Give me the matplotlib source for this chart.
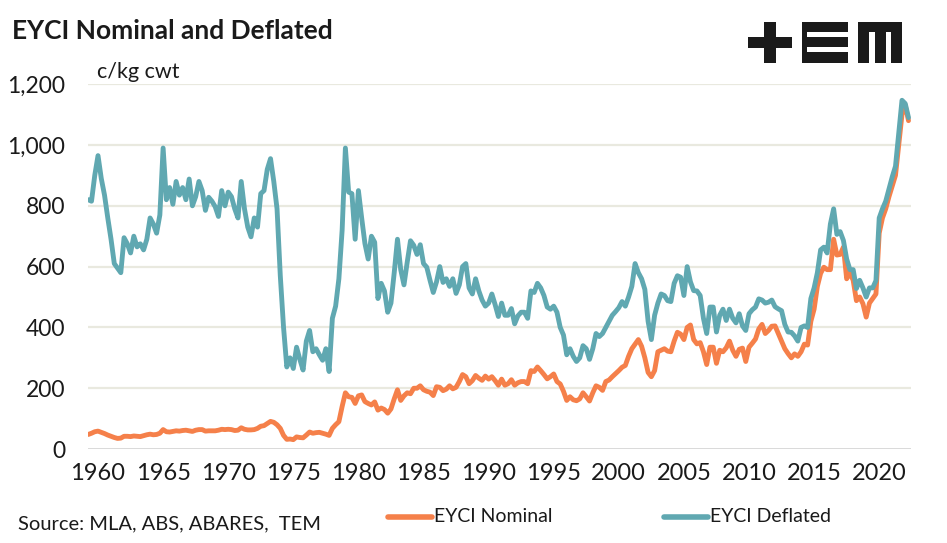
import numpy as np
import matplotlib
matplotlib.use("Agg")
import matplotlib.pyplot as plt
from matplotlib.lines import Line2D
from matplotlib.patches import Rectangle

plt.rcParams['font.family'] = ['Lato', 'DejaVu Sans']

# quarterly readings, first value is Q2 1959
start_year = 1959.25

deflated = [
    820, 815, 900,                                   # 1959
    965, 890, 835, 760,   690, 610, 595, 580,        # 1960-61
    695, 675, 645, 700,   665, 675, 655, 690,        # 1962-63
    760, 740, 710, 770,   990, 820, 860, 805,        # 1964-65
    880, 835, 860, 820,   888, 800, 830, 880,        # 1966-67
    850, 785, 828, 815,   797, 765, 850, 800,        # 1968-69
    845, 830, 790, 760,   880, 790, 730, 698,        # 1970-71
    760, 730, 840, 850,   920, 955, 880, 790,        # 1972-73
    570, 400, 270, 300,   265, 335, 295, 260,        # 1974-75
    355, 390, 320, 330,   310, 292, 330, 255,        # 1976-77
    430, 470, 560, 720,   990, 845, 840, 690,        # 1978-79
    850, 760, 676, 625,   700, 680, 495, 545,        # 1980-81
    520, 450, 480, 580,   690, 590, 540, 615,        # 1982-83
    685, 670, 640, 672,   610, 598, 555, 515,        # 1984-85
    550, 600, 548, 560,   535, 560, 512, 540,        # 1986-87
    600, 610, 530, 510,   560, 520, 490, 470,        # 1988-89
    480, 510, 475, 436,   480, 440, 440, 462,        # 1990-91
    412, 438, 450, 450,   430, 520, 515, 545,        # 1992-93
    530, 505, 467, 460,   470, 450, 400, 375,        # 1994-95
    310, 330, 305, 288,   300, 340, 330, 295,        # 1996-97
    330, 380, 370, 380,   400, 420, 440, 452,        # 1998-99
    465, 485, 470, 500,   535, 610, 580, 560,        # 2000-01
    525, 420, 360, 440,   480, 510, 505, 488,        # 2002-03
    485, 545, 570, 565,   505, 600, 550, 521,        # 2004-05
    520, 505, 430, 380,   467, 467, 385, 440,        # 2006-07
    460, 423, 460, 430,   415, 445, 405, 390,        # 2008-09
    445, 458, 467, 494,   490, 480, 483, 490,        # 2010-11
    468, 461, 455, 410,   385, 384, 372, 355,        # 2012-13
    400, 405, 400, 495,   530, 580, 655, 664,        # 2014-15
    645, 740, 790, 706,   715, 686, 625, 590,        # 2016-17
    590, 528, 555, 530,   500, 530, 530, 554,        # 2018-19
    760, 790, 815, 855,   895, 930, 1040, 1147,      # 2020-21
    1136, 1090,                                      # 2022
]

nominal = [
    48, 52, 57,                                      # 1959
    59, 55, 51, 46,       42, 38, 35, 36,            # 1960-61
    42, 42, 41, 43,       42, 41, 44, 47,            # 1962-63
    49, 47, 48, 52,       64, 57, 56, 58,            # 1964-65
    60, 59, 61, 62,       60, 58, 62, 64,            # 1966-67
    64, 59, 60, 60,       60, 62, 65, 64,            # 1968-69
    65, 64, 61, 62,       70, 65, 63, 63,            # 1970-71
    64, 68, 75, 77,       84, 91, 88, 80,            # 1972-73
    68, 45, 32, 33,       31, 40, 38, 37,            # 1974-75
    46, 56, 52, 54,       55, 52, 49, 45,            # 1976-77
    68, 80, 90, 140,      185, 172, 170, 150,        # 1978-79
    175, 178, 156, 150,   145, 155, 128, 135,        # 1980-81
    130, 118, 132, 165,   195, 160, 175, 185,        # 1982-83
    182, 200, 200, 208,   195, 190, 187, 176,        # 1984-85
    205, 203, 192, 197,   208, 198, 203, 222,        # 1986-87
    245, 238, 215, 225,   242, 233, 226, 240,        # 1988-89
    230, 238, 225, 210,   230, 210, 215, 228,        # 1990-91
    210, 218, 222, 222,   215, 258, 255, 270,        # 1992-93
    258, 245, 231, 238,   247, 222, 214, 190,        # 1994-95
    160, 172, 162, 159,   165, 185, 172, 158,        # 1996-97
    185, 208, 203, 193,   222, 227, 238, 248,        # 1998-99
    258, 269, 275, 305,   330, 345, 360, 338,        # 2000-01
    300, 252, 238, 258,   320, 325, 330, 322,        # 2002-03
    320, 355, 384, 378,   360, 400, 408, 360,        # 2004-05
    346, 350, 320, 278,   335, 335, 282, 325,        # 2006-07
    320, 333, 355, 325,   305, 328, 332, 288,        # 2008-09
    335, 348, 362, 395,   410, 380, 390, 404,        # 2010-11
    405, 380, 355, 330,   314, 300, 313, 305,        # 2012-13
    320, 345, 342, 420,   460, 535, 578, 598,        # 2014-15
    590, 590, 690, 638,   640, 664, 560, 580,        # 2016-17
    555, 488, 500, 478,   434, 480, 495, 510,        # 2018-19
    710, 760, 790, 830,   865, 900, 1000, 1100,      # 2020-21
    1130, 1080,                                      # 2022
]

assert len(deflated) == len(nominal)
years = start_year + 0.25 * np.arange(len(deflated))

tick_years = list(range(1960, 2021, 5))
y_ticks = [0, 200, 400, 600, 800, 1000, 1200]

col_nom = '#F5804A'
col_def = '#60A8B1'
txt_col = '#1a1a1a'

fig = plt.figure(figsize=(9.47, 5.43), dpi=100)
ax = fig.add_axes([0.0925, 0.173, 0.8696, 0.672])

for yv in y_ticks[1:]:
    ax.axhline(yv, color='#E9E9DF', linewidth=1.6, zorder=1)
ax.axhline(0, color='#D6D6D6', linewidth=2.0, zorder=1)

ax.plot(years, nominal, color=col_nom, linewidth=3.5, solid_capstyle='round', zorder=3)
ax.plot(years, deflated, color=col_def, linewidth=3.5, solid_capstyle='round', zorder=4)

ax.set_xlim(1959.2, 2022.45)
ax.set_ylim(0, 1200)
ax.set_xticks(tick_years)
ax.set_xticklabels([str(t) for t in tick_years], fontsize=17, color=txt_col)
ax.set_yticks(y_ticks)
ax.set_yticklabels([f'{v:,}' for v in y_ticks], fontsize=16.5, color=txt_col)
ax.tick_params(axis='both', length=0)
ax.tick_params(axis='y', pad=16)
ax.tick_params(axis='x', pad=10)
for s in ax.spines.values(): s.set_visible(False)

## Texts
fig.text(12/947, 1 - 31/543, 'EYCI Nominal and Deflated', fontsize=19, fontweight='bold',
         color=txt_col, ha='left', va='center')
fig.text(97/947, 1 - 72/543, 'c/kg cwt', fontsize=15.5, color=txt_col, ha='left', va='center')
fig.text(18/947, 1 - 524/543, 'Source: MLA, ABS, ABARES,  TEM', fontsize=14.5, color=txt_col,
         ha='left', va='center')

## Legend drawn by hand
ly = 1 - 517/543
fig.add_artist(Line2D([388/947, 432/947], [ly, ly], color=col_nom, linewidth=4, solid_capstyle='round'))
fig.text(434/947, ly, 'EYCI Nominal', fontsize=14, color=txt_col, ha='left', va='center')
fig.add_artist(Line2D([664/947, 708/947], [ly, ly], color=col_def, linewidth=4, solid_capstyle='round'))
fig.text(710/947, ly, 'EYCI Deflated', fontsize=14, color=txt_col, ha='left', va='center')

## Logo (+EM) from blocks, pixel coords
W, H = 947, 543
def block(x0, y0, x1, y1):
    fig.add_artist(Rectangle((x0/W, 1 - y1/H), (x1 - x0)/W, (y1 - y0)/H,
                             facecolor='#1a1a1a', edgecolor='none', transform=fig.transFigure))
# plus
block(748, 37, 792, 48)
block(764, 22, 776, 63)
# E
block(802, 22, 848, 32)
block(802, 37, 848, 47)
block(802, 52, 848, 63)
block(802, 22, 807, 63)
# M
block(858, 22, 902, 32)
block(858, 22, 869, 63)
block(875, 22, 886, 63)
block(891, 22, 902, 63)

fig.savefig('out.png', dpi=100)
